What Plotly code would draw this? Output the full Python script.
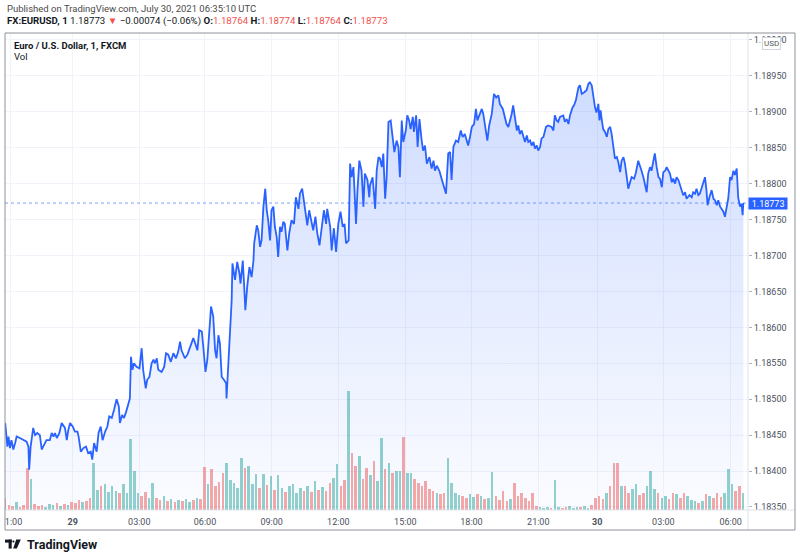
import numpy as np
import plotly.graph_objects as go

# EURUSD 1-minute line, bar index counted from 21:00 on July 28
bar_idx = [
    -3, 3, 6, 10, 14, 19, 24, 28, 37, 46, 55, 60, 62, 66, 69, 73, 78, 84, 91, 96,
    100, 109, 118, 123, 128, 132, 137, 144, 150, 155, 159, 164, 168, 173, 180, 186, 193, 196, 202, 209,
    216, 222, 229, 233, 238, 245, 250, 256, 261, 268, 274, 279, 286, 292, 299, 305, 308, 314, 319, 324,
    331, 335, 338, 342, 346, 353, 361, 367, 371, 378, 382, 388, 394, 399, 403, 408, 412, 421, 428, 433,
    439, 446, 453, 460, 466, 471, 475, 484, 491, 498, 507, 512, 518, 523, 530, 534, 540, 545, 550, 555,
    561, 566, 570, 575, 579, 584, 590, 596, 597, 602, 606, 611, 613, 620, 626, 632, 635, 641, 644, 648,
    653, 659, 665, 670, 672, 679, 683, 688, 692, 697, 702, 706, 710, 715, 719, 724, 728, 733, 737, 742,
    746, 751, 755, 762, 767, 773, 780, 785, 792, 796, 802, 807, 812, 816, 821, 826, 832, 838, 843, 849,
    855, 861, 867, 870, 878, 882, 888, 894, 900, 906, 912, 917, 921, 928, 932, 936, 941, 948, 952, 957,
    963, 968, 972, 979, 984, 986, 993, 1000, 1004, 1009, 1013, 1018, 1022, 1027, 1031, 1036, 1042, 1047, 1052, 1058,
    1063, 1067, 1072, 1076, 1083, 1087, 1092, 1096, 1102, 1105, 1111, 1115, 1120, 1126, 1130, 1135, 1140, 1147, 1153, 1158,
    1162, 1167, 1174, 1180, 1186, 1192, 1198, 1203, 1207, 1212, 1219, 1225, 1232, 1237, 1243, 1248, 1252, 1257, 1262, 1268,
    1273, 1277, 1282, 1289, 1293, 1298, 1304, 1309, 1316, 1322, 1328, 1334, 1338, 1346, 1352, 1356, 1361, 1365, 1370, 1374,
    1379, 1384, 1388, 1392, 1397, 1402, 1406, 1411, 1415, 1420, 1424, 1429, 1433, 1438, 1442, 1447, 1451, 1456, 1463, 1469,
    1478, 1483, 1487, 1492, 1496, 1501, 1510, 1514, 1519, 1524, 1528, 1535, 1539, 1544, 1551, 1555, 1560, 1566, 1573, 1578,
    1582, 1587, 1591, 1596, 1600, 1605, 1608, 1611, 1615, 1618, 1623, 1628, 1632, 1637, 1641, 1646, 1650, 1655, 1659, 1664,
    1668, 1673, 1677, 1682, 1686, 1691, 1695, 1702, 1707, 1713, 1718, 1722, 1727, 1731, 1736, 1740, 1745, 1749, 1754, 1758,
    1763, 1768, 1772, 1777, 1781, 1786, 1790, 1795, 1799, 1804, 1808, 1813, 1817, 1822, 1826, 1831, 1835, 1840, 1844, 1852,
    1858, 1862, 1867, 1871, 1876, 1880, 1885, 1890, 1894, 1898, 1901, 1906, 1912, 1917, 1921, 1926, 1930, 1935, 1939, 1944,
    1948, 1953, 1957, 1962, 1966, 1971, 1975, 1980, 1984, 1989, 1993, 1996, 1998,
]
price = [
    1.18467, 1.18434, 1.18448, 1.18432, 1.18443, 1.18430, 1.18439, 1.18448, 1.18446, 1.18443,
    1.18441, 1.18434, 1.18402, 1.18434, 1.18448, 1.18460, 1.18450, 1.18453, 1.18450, 1.18430,
    1.18434, 1.18443, 1.18443, 1.18453, 1.18448, 1.18453, 1.18446, 1.18453, 1.18467, 1.18462,
    1.18460, 1.18443, 1.18457, 1.18467, 1.18462, 1.18455, 1.18455, 1.18448, 1.18427, 1.18432,
    1.18434, 1.18425, 1.18427, 1.18416, 1.18439, 1.18427, 1.18453, 1.18462, 1.18443, 1.18455,
    1.18462, 1.18476, 1.18474, 1.18485, 1.18500, 1.18490, 1.18467, 1.18478, 1.18474, 1.18481,
    1.18494, 1.18501, 1.18559, 1.18541, 1.18550, 1.18545, 1.18543, 1.18571, 1.18541, 1.18515,
    1.18527, 1.18531, 1.18550, 1.18555, 1.18550, 1.18557, 1.18541, 1.18538, 1.18545, 1.18564,
    1.18562, 1.18552, 1.18564, 1.18557, 1.18566, 1.18580, 1.18568, 1.18557, 1.18562, 1.18573,
    1.18585, 1.18578, 1.18568, 1.18596, 1.18594, 1.18573, 1.18538, 1.18555, 1.18592, 1.18629,
    1.18615, 1.18568, 1.18557, 1.18589, 1.18578, 1.18531, 1.18527, 1.18522, 1.18501, 1.18550,
    1.18601, 1.18638, 1.18689, 1.18666, 1.18691, 1.18675, 1.18661, 1.18693, 1.18666, 1.18624,
    1.18656, 1.18684, 1.18670, 1.18693, 1.18717, 1.18742, 1.18735, 1.18712, 1.18721, 1.18768,
    1.18793, 1.18763, 1.18749, 1.18721, 1.18763, 1.18768, 1.18740, 1.18726, 1.18698, 1.18740,
    1.18733, 1.18747, 1.18744, 1.18707, 1.18731, 1.18749, 1.18744, 1.18781, 1.18765, 1.18786,
    1.18793, 1.18777, 1.18758, 1.18742, 1.18763, 1.18749, 1.18735, 1.18754, 1.18731, 1.18714,
    1.18735, 1.18763, 1.18744, 1.18765, 1.18740, 1.18707, 1.18738, 1.18705, 1.18744, 1.18761,
    1.18740, 1.18744, 1.18717, 1.18721, 1.18828, 1.18809, 1.18823, 1.18744, 1.18791, 1.18832,
    1.18818, 1.18768, 1.18814, 1.18805, 1.18781, 1.18798, 1.18809, 1.18765, 1.18818, 1.18837,
    1.18835, 1.18823, 1.18842, 1.18779, 1.18809, 1.18886, 1.18888, 1.18863, 1.18844, 1.18860,
    1.18851, 1.18809, 1.18888, 1.18858, 1.18874, 1.18895, 1.18888, 1.18876, 1.18893, 1.18872,
    1.18895, 1.18851, 1.18890, 1.18860, 1.18846, 1.18853, 1.18828, 1.18837, 1.18821, 1.18832,
    1.18818, 1.18825, 1.18818, 1.18807, 1.18795, 1.18786, 1.18842, 1.18844, 1.18805, 1.18851,
    1.18860, 1.18858, 1.18874, 1.18865, 1.18869, 1.18858, 1.18853, 1.18865, 1.18879, 1.18883,
    1.18904, 1.18888, 1.18895, 1.18904, 1.18897, 1.18881, 1.18860, 1.18881, 1.18897, 1.18925,
    1.18920, 1.18923, 1.18911, 1.18904, 1.18893, 1.18883, 1.18879, 1.18886, 1.18897, 1.18909,
    1.18890, 1.18874, 1.18881, 1.18869, 1.18874, 1.18865, 1.18858, 1.18867, 1.18858, 1.18860,
    1.18853, 1.18858, 1.18849, 1.18853, 1.18846, 1.18851, 1.18863, 1.18865, 1.18879, 1.18881,
    1.18879, 1.18874, 1.18895, 1.18888, 1.18886, 1.18893, 1.18895, 1.18886, 1.18890, 1.18883,
    1.18895, 1.18906, 1.18909, 1.18916, 1.18934, 1.18937, 1.18925, 1.18927, 1.18930, 1.18939,
    1.18941, 1.18937, 1.18923, 1.18906, 1.18899, 1.18911, 1.18888, 1.18902, 1.18886, 1.18876,
    1.18872, 1.18865, 1.18876, 1.18879, 1.18869, 1.18851, 1.18835, 1.18837, 1.18830, 1.18816,
    1.18832, 1.18837, 1.18828, 1.18809, 1.18793, 1.18802, 1.18809, 1.18807, 1.18816, 1.18832,
    1.18825, 1.18818, 1.18809, 1.18798, 1.18788, 1.18814, 1.18823, 1.18818, 1.18832, 1.18842,
    1.18823, 1.18809, 1.18807, 1.18795, 1.18816, 1.18818, 1.18823, 1.18818, 1.18814, 1.18802,
    1.18807, 1.18800, 1.18809, 1.18805, 1.18798, 1.18791, 1.18784, 1.18788, 1.18779, 1.18784,
    1.18781, 1.18788, 1.18786, 1.18793, 1.18784, 1.18786, 1.18795, 1.18805, 1.18809, 1.18791,
    1.18770, 1.18781, 1.18791, 1.18779, 1.18777, 1.18770, 1.18777, 1.18768, 1.18765, 1.18761,
    1.18754, 1.18768, 1.18779, 1.18809, 1.18805, 1.18818, 1.18812, 1.18821, 1.18781, 1.18768,
    1.18772, 1.18756, 1.18773,
]

# tick volume, grouped every 10 bars starting at bar -3
volume = [
    12, 5, 4, 8, 3, 5, 42, 31, 6, 4, 5, 3, 6, 5, 7, 4, 6, 5, 8, 7,
    10, 8, 9, 12, 47, 20, 24, 26, 18, 24, 19, 17, 26, 17, 71, 39, 17, 14, 18, 12,
    27, 12, 10, 14, 9, 11, 8, 10, 9, 11, 8, 10, 12, 11, 43, 26, 41, 24, 28, 37,
    47, 30, 27, 22, 52, 42, 44, 26, 36, 22, 36, 25, 34, 20, 35, 22, 18, 24, 26, 17,
    22, 19, 24, 18, 29, 20, 23, 19, 27, 32, 46, 24, 30, 119, 57, 44, 54, 31, 42, 35,
    49, 29, 72, 41, 47, 37, 39, 39, 73, 37, 37, 31, 27, 24, 29, 21, 19, 17, 16, 17,
    52, 27, 17, 15, 14, 12, 16, 13, 16, 14, 11, 12, 38, 14, 10, 19, 9, 11, 27, 14,
    17, 12, 9, 17, 4, 3, 2, 3, 2, 30, 3, 2, 3, 4, 2, 3, 3, 4, 2, 5,
    12, 14, 11, 17, 24, 47, 47, 24, 24, 17, 21, 26, 15, 17, 24, 39, 21, 17, 12, 14,
    11, 17, 16, 12, 17, 14, 10, 9, 7, 9, 16, 14, 12, 17, 13, 17, 41, 26, 19, 24,
    17,
]
vol_bar = list(range(-3, -3 + 10 * len(volume), 10))

tick_bars = [12.7, 180, 360.5, 538.6, 719.4, 900, 1081.6, 1261, 1442.1, 1602, 1781, 1963.6]
tick_text = ["21:00", "<b>29</b>", "03:00", "06:00", "09:00", "12:00", "15:00",
             "18:00", "21:00", "<b>30</b>", "03:00", "06:00"]
price_ticks = [1.1835, 1.1840, 1.1845, 1.1850, 1.1855, 1.1860, 1.1865,
               1.1870, 1.1875, 1.1880, 1.1885, 1.1890, 1.1895, 1.1900]
last_price = 1.18773

BLUE = "#2962ff"
RED = "#ef5350"
FONT = "Roboto"
W, H = 800, 558
L, R, T, B = 5, 52, 33, 48


def px(x):
    return (x - L) / (W - L - R)


def py(y):
    return (H - B - y) / (H - T - B)


# colour each volume bar by the price move over its interval
p_end = np.interp(np.array(vol_bar) + 5, bar_idx, price)
p_start = np.interp(np.array(vol_bar) - 5, bar_idx, price)
vol_colors = ["rgba(38,166,154,0.5)" if e >= s else "rgba(239,83,80,0.5)"
              for s, e in zip(p_start, p_end)]

fig = go.Figure()

fig.add_trace(go.Bar(
    x=vol_bar, y=volume, width=7,
    marker=dict(color=vol_colors, line=dict(width=0)),
    yaxis="y", hoverinfo="skip",
))

fig.add_trace(go.Scatter(
    x=bar_idx, y=price, yaxis="y2", mode="lines",
    line=dict(color=BLUE, width=1.8),
    fill="tozeroy",
    fillgradient=dict(
        type="vertical",
        colorscale=[[0, "rgba(41,98,255,0.02)"], [1, "rgba(41,98,255,0.22)"]],
        start=1.18346, stop=1.18941,
    ),
))

annotations = [
    dict(x=px(5), y=py(8), text="Published on TradingView.com, July 30, 2021 06:35:10 UTC",
         font=dict(size=9.5, color="#4a4a4a")),
    dict(x=px(5), y=py(21),
         text=("<b>FX:EURUSD, 1</b> 1.18773 <span style='color:%s'>▼</span> −0.00074 (−0.06%%) "
               "<b>O:</b><span style='color:%s'>1.18764</span> <b>H:</b><span style='color:%s'>1.18774</span> "
               "<b>L:</b><span style='color:%s'>1.18764</span> <b>C:</b><span style='color:%s'>1.18773</span>")
         % (RED, RED, RED, RED, RED),
         font=dict(size=9.7, color="#131722")),
    dict(x=px(12), y=py(45), text="<b>Euro / U.S. Dollar, 1, FXCM</b>",
         font=dict(size=9.5, color="#131722")),
    dict(x=px(12), y=py(57), text="Vol", font=dict(size=9.5, color="#131722")),
    dict(x=px(25), y=py(544), text="<b>TradingView</b>", font=dict(size=12.5, color="#131722")),
]
for a in annotations:
    a.update(xref="paper", yref="paper", xanchor="left", yanchor="middle", showarrow=False)

annotations.append(dict(
    x=px(748), xref="paper", y=last_price, yref="y2", xanchor="left", yanchor="middle",
    text=" 1.18773 ", showarrow=False, bgcolor=BLUE, borderpad=0.5,
    font=dict(size=9, color="white", family=FONT),
))
annotations.append(dict(
    x=px(771), xref="paper", y=py(44), yref="paper", xanchor="center", yanchor="middle",
    text="USD", showarrow=False, bgcolor="white", bordercolor="#d1d4dc", borderwidth=1,
    borderpad=1, font=dict(size=8, color="#555555", family=FONT),
))

shapes = [
    # hide the part of the first time label that falls outside the frame
    dict(type="rect", xref="paper", yref="paper", x0=px(-5), x1=px(4.5), y0=py(H), y1=py(0),
         fillcolor="white", line=dict(width=0), layer="above"),
    # last price line
    dict(type="line", xref="paper", yref="y2", x0=0, x1=1, y0=last_price, y1=last_price,
         line=dict(color="rgba(41,98,255,0.6)", width=1, dash="dot")),
    # pane / axis separators
    dict(type="line", xref="paper", yref="paper", x0=px(5), x1=px(795), y0=py(510), y1=py(510),
         line=dict(color="#e0e3eb", width=1), layer="above"),
    dict(type="line", xref="paper", yref="paper", x0=px(748), x1=px(748), y0=py(33), y1=py(530),
         line=dict(color="#e0e3eb", width=1), layer="above"),
    # outer frame
    dict(type="rect", xref="paper", yref="paper", x0=px(5), x1=px(795), y0=py(530), y1=py(33),
         line=dict(color="#8f929b", width=1), layer="above"),
    # TradingView logo mark
    dict(type="rect", xref="paper", yref="paper", x0=px(5), x1=px(11.7), y0=py(542.6), y1=py(539.6),
         fillcolor="#131722", line=dict(width=0), layer="above"),
    dict(type="rect", xref="paper", yref="paper", x0=px(8.6), x1=px(11.7), y0=py(548.6), y1=py(539.6),
         fillcolor="#131722", line=dict(width=0), layer="above"),
    dict(type="circle", xref="paper", yref="paper", x0=px(12.3), x1=px(14.5), y0=py(542.6), y1=py(540.4),
         fillcolor="#131722", line=dict(width=0), layer="above"),
    dict(type="path", xref="paper", yref="paper",
         path="M %f,%f L %f,%f L %f,%f L %f,%f Z" % (
             px(16.2), py(539.6), px(20.8), py(539.6), px(16.8), py(548.6), px(13.2), py(548.6)),
         fillcolor="#131722", line=dict(width=0), layer="above"),
]

fig.update_layout(
    width=W, height=H, autosize=False,
    margin=dict(l=L, r=R, t=T, b=B, pad=0),
    paper_bgcolor="white", plot_bgcolor="white",
    showlegend=False, bargap=0,
    font=dict(family=FONT, size=9.5, color="#4c525e"),
    xaxis=dict(
        range=[-3.5, 2010.6], tickvals=tick_bars, ticktext=tick_text,
        showgrid=True, gridcolor="#f0f3fa", gridwidth=1, zeroline=False, showline=False,
        ticks="outside", ticklen=3, tickcolor="rgba(0,0,0,0)", ticklabeloverflow="allow",
        tickfont=dict(size=9, color="#4c525e"), automargin=False, fixedrange=True,
    ),
    yaxis=dict(range=[0, 477], visible=False, showgrid=False, fixedrange=True),
    yaxis2=dict(
        overlaying="y", side="right", range=[1.183458, 1.190097],
        tickvals=price_ticks, tickformat=".5f",
        showgrid=True, gridcolor="#f0f3fa", gridwidth=1, zeroline=False, showline=False,
        ticks="outside", ticklen=3, tickcolor="#b2b5be",
        tickfont=dict(size=9, color="#4c525e"), automargin=False, fixedrange=True,
    ),
    annotations=annotations,
    shapes=shapes,
)

# the page's default body margin would push the figure off the window
fig.write_html(
    "out.html",
    config={"displayModeBar": False},
    post_script="document.body.style.margin='0px';document.documentElement.style.overflow='hidden';",
)
